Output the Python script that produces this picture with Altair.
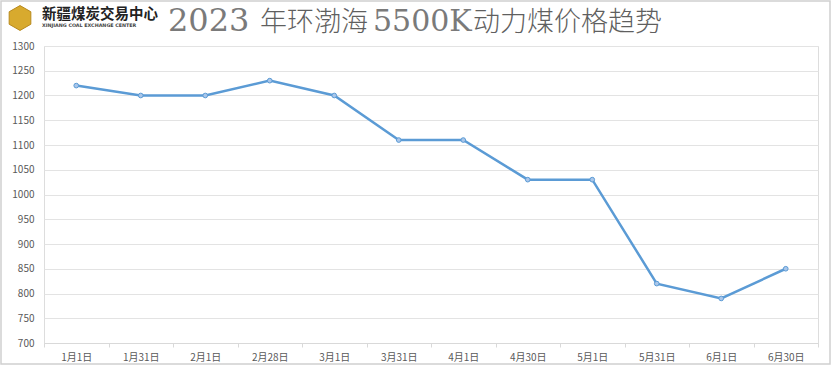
import altair as alt
import pandas as pd

dates = ["1月1日", "1月31日", "2月1日", "2月28日", "3月1日", "3月31日",
         "4月1日", "4月30日", "5月1日", "5月31日", "6月1日", "6月30日"]
prices = [1220, 1200, 1200, 1230, 1200, 1110, 1110, 1030, 1030, 820, 790, 850]
title_parts = ["2023", "年环渤海", "5500K", "动力煤价格趋势"]
logo_cn = "新疆煤炭交易中心"
logo_en = "XINJIANG COAL EXCHANGE CENTER"

df = pd.DataFrame({"date": dates, "price": prices})

W, H = 774, 297
FONT = "Noto Sans CJK SC"

x = alt.X("date:N", sort=dates, title=None,
          scale=alt.Scale(type="band", paddingInner=0, paddingOuter=0),
          axis=alt.Axis(labelAngle=0, labelFont=FONT, labelFontSize=10, labelColor="#595959",
                        labelPadding=5, domainColor="#d9d9d9", tickColor="#d9d9d9",
                        tickSize=4, tickBand="extent", grid=False))
y = alt.Y("price:Q", title=None,
          scale=alt.Scale(domain=[700, 1300], nice=False, zero=False),
          axis=alt.Axis(values=list(range(700, 1301, 50)), format="d", labelFont=FONT,
                        labelFontSize=10, labelColor="#595959", labelPadding=10,
                        domain=False, ticks=False, gridColor="#e3e3e3", gridWidth=1))

base = alt.Chart(df)
line = base.mark_line(color="#5b9bd5", strokeWidth=2.5).encode(x=x, y=y)
pts = base.mark_point(filled=True, size=22, color="#a9c6ea", stroke="#5b9bd5",
                      strokeWidth=1, opacity=1).encode(x=x, y=y)

deco = pd.DataFrame({"k": [0]})
frame = alt.Chart(deco).mark_rect(fill=None, stroke="#d0d0d0", strokeWidth=1.5).encode(
    x=alt.value(-43), x2=alt.value(786), y=alt.value(-45), y2=alt.value(318))
hexagon = alt.Chart(deco).mark_point(
    shape="M0,-1L0.87,-0.5L0.87,0.5L0,1L-0.87,0.5L-0.87,-0.5Z",
    filled=True, size=620, color="#d8aa2e", stroke="#b8891c", strokeWidth=1, opacity=1
).encode(x=alt.value(-24), y=alt.value(-28))
cn = alt.Chart(deco).mark_text(text=logo_cn, font=FONT, fontSize=14.5, fontWeight="bold",
                               color="#222222", align="left", baseline="middle").encode(
    x=alt.value(-2), y=alt.value(-31))
en = alt.Chart(deco).mark_text(text=logo_en, font="DejaVu Sans", fontSize=4.8, fontWeight="bold",
                               color="#444444", align="left", baseline="middle").encode(
    x=alt.value(-2), y=alt.value(-20))

t_style = dict(align="left", baseline="alphabetic")
t1 = alt.Chart(deco).mark_text(text=title_parts[0], font="DejaVu Serif", fontSize=32,
                               color="#7a7a7a", **t_style).encode(x=alt.value(124), y=alt.value(-15))
t2 = alt.Chart(deco).mark_text(text=title_parts[1], font=FONT, fontSize=27, fontWeight=300,
                               color="#5f5f5f", **t_style).encode(x=alt.value(216), y=alt.value(-15))
t3 = alt.Chart(deco).mark_text(text=title_parts[2], font="DejaVu Serif", fontSize=30,
                               color="#7a7a7a", **t_style).encode(x=alt.value(329), y=alt.value(-15))
t4 = alt.Chart(deco).mark_text(text=title_parts[3], font=FONT, fontSize=27, fontWeight=300,
                               color="#5f5f5f", **t_style).encode(x=alt.value(429), y=alt.value(-15))

chart = alt.layer(frame, line, pts, hexagon, cn, en, t1, t2, t3, t4).properties(
    width=W, height=H,
    autosize=alt.AutoSizeParams(type="none"),
    padding={"left": 44, "top": 46, "right": 15, "bottom": 23},
).configure_view(stroke=None).configure(background="white")

chart.save("out.html", embed_options={"renderer": "svg", "actions": False})
